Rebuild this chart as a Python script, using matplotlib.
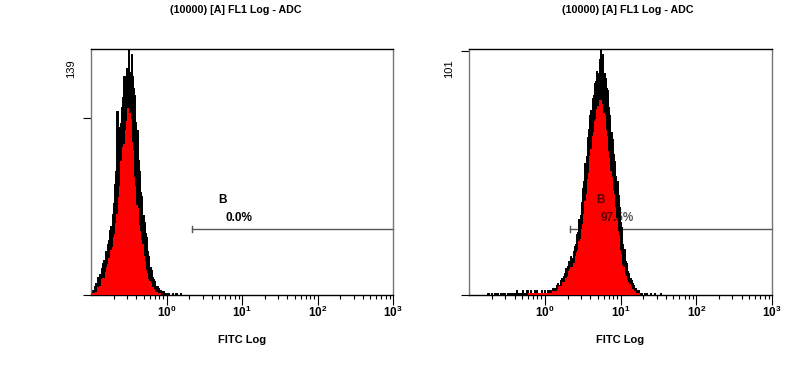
import numpy as np
import matplotlib.pyplot as plt
from matplotlib.transforms import blended_transform_factory

plt.rcParams['font.family'] = ['Liberation Sans', 'DejaVu Sans']

title = "(10000) [A] FL1 Log - ADC"
xlabel = "FITC Log"

# 256 channels over 4 decades (64 per decade), channel 0 = 10^-1
chan_per_decade = 64

left_start = 0
left_counts = [1, 3, 2, 5, 7, 6, 10, 12, 11, 15, 18, 20, 25, 24, 29, 31, 37, 39, 46, 52,
               63, 70, 104, 86, 95, 97, 106, 112, 124, 120, 128, 122, 139, 126, 136, 124, 117, 113, 98, 93,
               76, 70, 58, 56, 45, 41, 35, 33, 25, 22, 16, 14, 10, 9, 8, 5, 5, 4, 2, 3,
               1, 2, 1, 0, 1, 0, 1, 0, 0, 1, 0, 0, 1, 0, 0, 0, 1, 0, 0, 0, 0]

right_start = 15
right_counts = [0, 1, 0, 0, 1, 0, 0, 1, 0, 1, 0, 0, 1, 0, 1, 1, 0, 0, 1, 0, 1, 1, 0, 1, 0,
                2, 1, 0, 1, 1, 2, 1, 0, 1, 2, 1, 1, 2, 1, 1, 2, 1, 2, 1, 1,
                1, 2, 1, 1, 2, 1, 2, 2, 1, 2,
                2, 3, 2, 3, 4, 5, 4, 6, 7, 6,
                8, 9, 11, 12, 14, 13, 16, 15, 18, 20,
                21, 25, 26, 31, 33, 38, 44, 47, 54, 57,
                65, 68, 74, 76, 81, 82, 87, 88, 92, 91,
                97, 101, 96, 99, 91, 89, 85, 84, 77, 74,
                67, 64, 58, 55, 49, 47, 41, 36, 30, 28,
                21, 19, 14, 13, 10, 9, 7, 6, 5, 4,
                3, 3, 2, 2, 1, 1, 1, 0, 1, 0, 1,
                0, 0, 1, 0, 0, 0, 1, 0, 0, 0, 0, 1, 0, 0, 0]

left_ymax = 139
right_ymax = 101
gate_lo = 2.15
gate_hi = 1000
gate_name = "B"
left_pct = "0.0%"
right_pct = "97.5%"


def draw(ax, start, counts, ymax, pct, pct_x, text_alpha, win):
    counts = np.array(counts, dtype=float)
    ch = np.arange(start, start + len(counts))
    x = 10 ** (ch / chan_per_decade - 1)
    h = win // 2
    padded = np.pad(counts, h, mode='edge')
    inner = np.lib.stride_tricks.sliding_window_view(padded, win).min(axis=1) * 0.88

    trans = blended_transform_factory(ax.transData, ax.transAxes)
    ax.plot([gate_lo, gate_hi], [0.268, 0.268], color='#555555', lw=1,
            transform=trans, zorder=1, clip_on=False)
    ax.plot([gate_lo, gate_lo], [0.255, 0.281], color='#555555', lw=1,
            transform=trans, zorder=1)

    ax.fill_between(x, counts, step='mid', color='black', lw=0.6, zorder=2)
    ax.step(x, counts, where='mid', color='black', lw=0.6, zorder=2)
    ax.fill_between(x, inner, step='mid', color='#ff0000', lw=0, zorder=3)

    ax.text(4.8, 0.386, gate_name, transform=trans, fontsize=8.5, fontweight='bold',
            va='center', ha='left', alpha=text_alpha, zorder=4)
    ax.text(pct_x, 0.315, pct, transform=trans, fontsize=8.5, fontweight='bold',
            va='center', ha='left', alpha=text_alpha, zorder=4)

    ax.set_xscale('log')
    ax.set_xlim(0.1, 1000)
    ax.set_ylim(0, ymax)
    ax.set_xticks([1, 10, 100, 1000])
    ax.set_yticks([0, 100])
    ax.set_yticklabels([])
    ax.tick_params(axis='x', which='major', direction='out', length=7, width=0.8,
                   labelsize=8.5, pad=0)
    ax.tick_params(axis='x', which='minor', direction='out', length=3, width=0.8)
    ax.tick_params(axis='y', direction='out', length=6, width=0.8)
    for lab in ax.get_xticklabels():
        lab.set_fontweight('bold')
    ax.set_xlabel(xlabel, fontsize=8, fontweight='bold', labelpad=11)
    ax.text(-0.066, 0.92, str(ymax), transform=ax.transAxes, rotation=90,
            fontsize=8, ha='center', va='center')
    for side in ['left', 'right']:
        ax.spines[side].set_color('#777777')
    for side in ['top', 'bottom']:
        ax.spines[side].set_color('black')
    for s in ax.spines.values():
        s.set_linewidth(1)


fig = plt.figure(figsize=(8, 3.7), dpi=100)
ax1 = fig.add_axes([91 / 800, 75 / 370, 302 / 800, 246 / 370])
ax2 = fig.add_axes([469 / 800, 75 / 370, 303 / 800, 246 / 370])

draw(ax1, left_start, left_counts, left_ymax, left_pct, 6.1, 1.0, 7)
draw(ax2, right_start, right_counts, right_ymax, right_pct, 5.4, 0.65, 5)

fig.text(236 / 800, 1 - 10 / 370, title, fontsize=7.7, fontweight='bold', ha='center', va='center')
fig.text(628 / 800, 1 - 10 / 370, title, fontsize=7.7, fontweight='bold', ha='center', va='center')

fig.savefig('out.png', dpi=100)
